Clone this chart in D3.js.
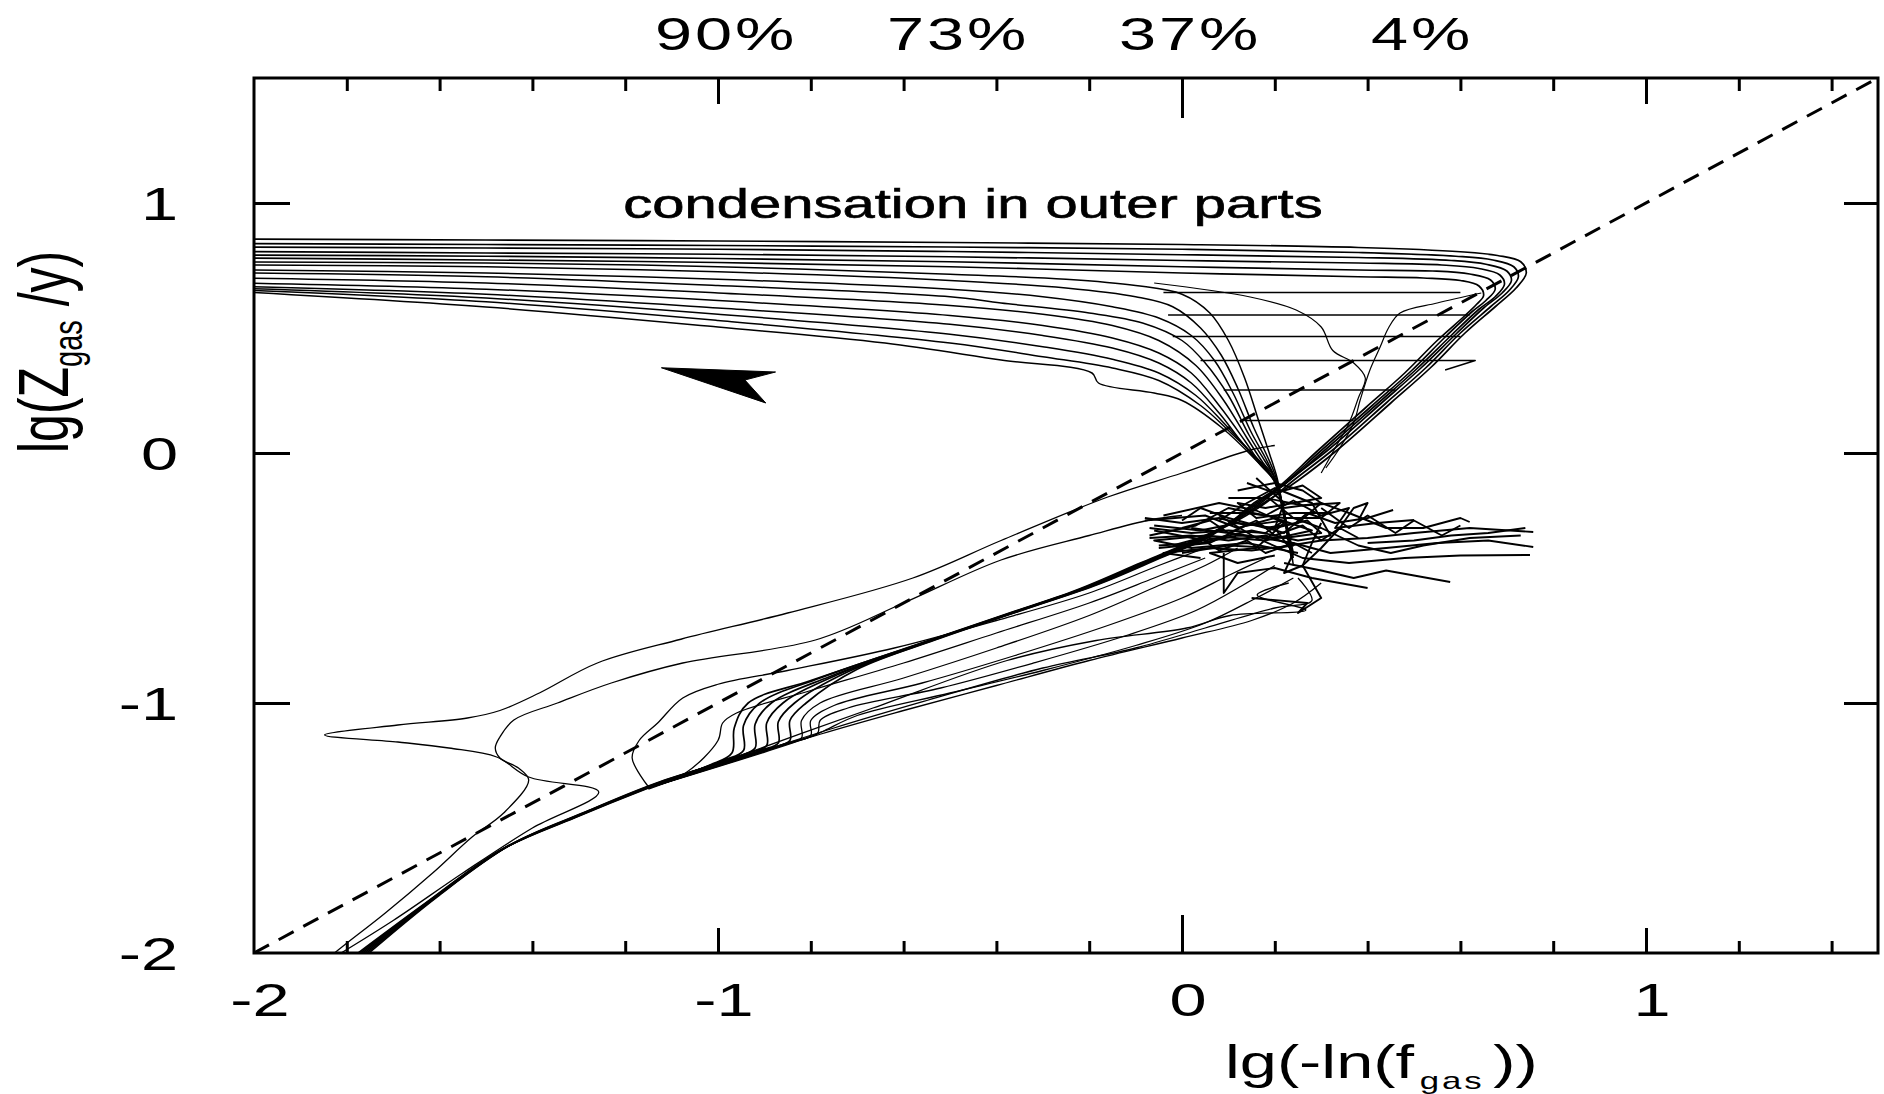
<!DOCTYPE html>
<html><head><meta charset="utf-8">
<script src="https://cdnjs.cloudflare.com/ajax/libs/d3/7.8.5/d3.min.js"></script>
<style>html,body{margin:0;padding:0;background:#fff;} svg{display:block;}</style>
</head><body>
<svg id="chart" width="1884" height="1094"></svg>
<script>
// ---------------- data ----------------
const xTickValues = [-2, -1, 0, 1];
const xTickLabels = ["-2", "-1", "0", "1"];
const yTickValues = [1, 0, -1, -2];
const yTickLabels = ["1", "0", "-1", "-2"];
const xMinorTicks = [-1.8,-1.6,-1.4,-1.2,-0.8,-0.6,-0.4,-0.2,0.2,0.4,0.6,0.8,1.2,1.4];
const xMidTicks = [-1, 1];
const xMajorTicks = [0];
const yMarkTicks = [-1, 0, 1];
const topTickValues = [-1, -0.5, 0, 0.5];
const topTickLabels = ["90%", "73%", "37%", "4%"];

const diagonal = [[-2, -2], [1.5, 1.5]];
const arrowHead = [[-1.122,0.341],[-0.876,0.324],[-0.942,0.292],[-0.897,0.2]];

const noseCurves = [
 [[-1.79,-2.02],[-1.63,-1.8],[-1.47,-1.59],[-1.31,-1.46],[-1.15,-1.34],[-1.02,-1.25],[-0.97,-1.2],[-0.965,-1.1],[-0.935,-1.0],[-0.8,-0.91],[-0.57,-0.765],[-0.38,-0.645],[-0.23,-0.55],[-0.09,-0.44],[0.0,-0.37],[0.1,-0.285],[0.18,-0.195],[0.25,-0.11],[0.34,0.02],[0.45,0.2],[0.535,0.34],[0.61,0.48],[0.675,0.585],[0.72,0.66],[0.742,0.72],[0.73,0.765],[0.68,0.79],[0.6,0.805],[0.38,0.822],[0.0,0.834],[-0.5,0.842],[-1.0,0.848],[-1.5,0.852],[-2.02,0.856]],
 [[-1.785,-2.02],[-1.625,-1.795],[-1.465,-1.585],[-1.305,-1.455],[-1.145,-1.335],[-0.99,-1.23],[-0.945,-1.19],[-0.945,-1.09],[-0.91,-1.0],[-0.78,-0.9],[-0.56,-0.76],[-0.37,-0.64],[-0.22,-0.545],[-0.08,-0.435],[0.01,-0.365],[0.11,-0.28],[0.18,-0.2],[0.24,-0.11],[0.33,0.02],[0.44,0.2],[0.525,0.34],[0.6,0.48],[0.665,0.585],[0.705,0.65],[0.725,0.705],[0.715,0.745],[0.67,0.772],[0.59,0.787],[0.38,0.802],[0.0,0.815],[-0.5,0.824],[-1.0,0.83],[-1.5,0.834],[-2.02,0.838]],
 [[-1.78,-2.02],[-1.62,-1.79],[-1.46,-1.58],[-1.3,-1.45],[-1.14,-1.33],[-0.96,-1.215],[-0.92,-1.18],[-0.92,-1.085],[-0.885,-1.0],[-0.76,-0.895],[-0.55,-0.755],[-0.36,-0.635],[-0.21,-0.54],[-0.07,-0.43],[0.02,-0.36],[0.11,-0.275],[0.17,-0.2],[0.23,-0.11],[0.32,0.02],[0.43,0.2],[0.515,0.34],[0.59,0.475],[0.65,0.58],[0.69,0.64],[0.71,0.69],[0.7,0.728],[0.655,0.755],[0.58,0.77],[0.38,0.782],[0.0,0.793],[-0.5,0.806],[-1.0,0.815],[-1.5,0.82],[-2.02,0.824]],
 [[-1.775,-2.02],[-1.615,-1.785],[-1.455,-1.575],[-1.295,-1.445],[-1.135,-1.325],[-0.935,-1.2],[-0.895,-1.17],[-0.895,-1.08],[-0.86,-1.0],[-0.74,-0.885],[-0.54,-0.75],[-0.35,-0.63],[-0.2,-0.535],[-0.06,-0.425],[0.03,-0.355],[0.11,-0.27],[0.165,-0.2],[0.225,-0.12],[0.31,0.015],[0.42,0.195],[0.505,0.335],[0.58,0.47],[0.64,0.575],[0.675,0.625],[0.695,0.675],[0.685,0.712],[0.64,0.738],[0.56,0.752],[0.38,0.76],[0.0,0.77],[-0.5,0.785],[-1.0,0.795],[-1.5,0.8],[-2.02,0.806]],
 [[-1.77,-2.02],[-1.61,-1.78],[-1.45,-1.57],[-1.29,-1.44],[-1.13,-1.32],[-0.91,-1.19],[-0.87,-1.16],[-0.87,-1.075],[-0.835,-1.0],[-0.72,-0.875],[-0.53,-0.745],[-0.34,-0.625],[-0.19,-0.53],[-0.05,-0.42],[0.04,-0.35],[0.11,-0.27],[0.16,-0.2],[0.215,-0.13],[0.3,0.01],[0.41,0.19],[0.495,0.33],[0.565,0.46],[0.625,0.565],[0.655,0.61],[0.675,0.655],[0.665,0.692],[0.62,0.716],[0.54,0.728],[0.38,0.732],[0.0,0.745],[-0.5,0.765],[-1.0,0.778],[-1.5,0.787],[-2.02,0.792]],
 [[-1.765,-2.02],[-1.605,-1.775],[-1.445,-1.565],[-1.285,-1.435],[-1.125,-1.315],[-0.885,-1.18],[-0.845,-1.15],[-0.845,-1.07],[-0.81,-1.0],[-0.7,-0.865],[-0.52,-0.74],[-0.33,-0.62],[-0.18,-0.525],[-0.04,-0.415],[0.05,-0.345],[0.11,-0.27],[0.155,-0.2],[0.205,-0.14],[0.29,0.005],[0.395,0.18],[0.48,0.32],[0.55,0.45],[0.61,0.55],[0.635,0.595],[0.65,0.63],[0.64,0.668],[0.6,0.69],[0.52,0.7],[0.38,0.705],[0.0,0.72],[-0.5,0.745],[-1.0,0.762],[-1.5,0.772],[-2.02,0.78]]
];

const funnelCurves = [
 [[-2.02,0.764],[-1.5,0.76],[-1.0,0.745],[-0.5,0.715],[-0.25,0.695],[-0.1,0.67],[0.0,0.635],[0.06,0.56],[0.1,0.45],[0.135,0.3],[0.165,0.13],[0.188,0.0],[0.205,-0.1],[0.22,-0.25],[0.235,-0.4]],
 [[-2.02,0.752],[-1.5,0.745],[-1.0,0.725],[-0.5,0.69],[-0.25,0.66],[-0.1,0.625],[-0.02,0.585],[0.04,0.5],[0.085,0.39],[0.12,0.26],[0.155,0.1],[0.183,-0.01],[0.203,-0.1],[0.222,-0.26],[0.238,-0.43]],
 [[-2.02,0.732],[-1.5,0.72],[-1.0,0.695],[-0.5,0.655],[-0.3,0.625],[-0.15,0.585],[-0.05,0.54],[0.02,0.47],[0.07,0.37],[0.11,0.24],[0.15,0.08],[0.18,-0.02],[0.2,-0.1],[0.225,-0.28],[0.24,-0.45]],
 [[-2.02,0.72],[-1.5,0.705],[-1.0,0.67],[-0.5,0.625],[-0.39,0.6],[-0.2,0.56],[-0.085,0.52],[0.0,0.45],[0.05,0.36],[0.1,0.23],[0.145,0.07],[0.178,-0.03],[0.2,-0.1],[0.226,-0.3],[0.236,-0.4]],
 [[-2.02,0.70],[-1.5,0.68],[-1.0,0.64],[-0.5,0.59],[-0.3,0.555],[-0.15,0.51],[-0.05,0.45],[0.03,0.35],[0.09,0.21],[0.14,0.06],[0.175,-0.04],[0.2,-0.1],[0.228,-0.32],[0.24,-0.42]],
 [[-2.02,0.68],[-1.5,0.655],[-1.0,0.61],[-0.5,0.55],[-0.3,0.51],[-0.15,0.46],[-0.05,0.4],[0.02,0.32],[0.08,0.19],[0.135,0.05],[0.172,-0.05],[0.2,-0.11],[0.23,-0.33]],
 [[-2.02,0.666],[-1.5,0.635],[-1.0,0.58],[-0.5,0.515],[-0.3,0.47],[-0.15,0.42],[-0.05,0.36],[0.02,0.28],[0.08,0.16],[0.13,0.04],[0.17,-0.05],[0.198,-0.11],[0.225,-0.3],[0.235,-0.42]],
 [[-2.02,0.658],[-1.5,0.62],[-1.0,0.555],[-0.5,0.475],[-0.3,0.425],[-0.15,0.375],[-0.05,0.32],[0.03,0.23],[0.09,0.12],[0.14,0.02],[0.2,-0.11],[0.228,-0.35]],
 [[-2.02,0.652],[-1.5,0.605],[-1.0,0.53],[-0.5,0.44],[-0.3,0.385],[-0.15,0.34],[-0.05,0.29],[0.04,0.19],[0.1,0.09],[0.155,-0.01],[0.2,-0.115],[0.232,-0.38]],
 [[-2.02,0.644],[-1.5,0.584],[-1.0,0.504],[-0.64,0.44],[-0.39,0.372],[-0.194,0.32],[-0.18,0.28],[-0.06,0.24],[0.0,0.21],[0.084,0.104],[0.16,-0.03],[0.2,-0.115],[0.225,-0.28],[0.24,-0.4]]
];

const fanCurves = [
 [[-1.15,-1.34],[-1.07,-1.28],[-1.0,-1.15],[-0.99,-1.08],[-0.96,-1.04],[-0.8,-0.95],[-0.6,-0.84],[-0.4,-0.72],[-0.2,-0.6],[-0.06,-0.5],[0.05,-0.42]],
 [[-1.15,-1.34],[-0.86,-1.165],[-0.82,-1.14],[-0.82,-1.07],[-0.78,-1.0],[-0.6,-0.9],[-0.4,-0.78],[-0.2,-0.65],[-0.05,-0.53],[0.05,-0.45],[0.12,-0.38]],
 [[-1.15,-1.34],[-0.84,-1.155],[-0.8,-1.13],[-0.8,-1.07],[-0.75,-1.01],[-0.56,-0.92],[-0.36,-0.81],[-0.16,-0.69],[0.0,-0.58],[0.1,-0.49],[0.18,-0.42]],
 [[-1.15,-1.34],[-0.82,-1.145],[-0.785,-1.12],[-0.78,-1.07],[-0.72,-1.02],[-0.52,-0.94],[-0.32,-0.84],[-0.12,-0.73],[0.03,-0.63],[0.13,-0.53],[0.2,-0.45]],
 [[-1.15,-1.34],[-0.8,-1.135],[-0.77,-1.11],[-0.7,-1.05],[-0.5,-0.96],[-0.3,-0.87],[-0.1,-0.77],[0.05,-0.68],[0.16,-0.58],[0.24,-0.5]],
 [[-1.15,-1.34],[-0.78,-1.125],[-0.6,-1.03],[-0.4,-0.93],[-0.2,-0.83],[0.0,-0.74],[0.15,-0.67],[0.24,-0.6],[0.3,-0.52]],
 [[-1.15,-1.34],[-0.75,-1.1],[-0.55,-0.99],[-0.3,-0.86],[-0.1,-0.78],[0.05,-0.7],[0.2,-0.62],[0.28,-0.59],[0.25,-0.5]],
 [[-1.15,-1.345],[-0.907,-1.18],[-0.666,-1.02],[-0.377,-0.83],[-0.185,-0.75],[0.01,-0.7],[0.104,-0.65],[0.267,-0.628],[0.162,-0.568],[0.23,-0.52]]
];

const fishCurves = [
 [[-1.83,-2.02],[-1.7,-1.87],[-1.55,-1.68],[-1.4,-1.5],[-1.257,-1.356],[-1.408,-1.296],[-1.477,-1.216],[-1.58,-1.18],[-1.69,-1.156],[-1.848,-1.128],[-1.69,-1.088],[-1.54,-1.06],[-1.47,-1.03],[-1.385,-0.96],[-1.26,-0.84],[-1.08,-0.745],[-0.85,-0.64],[-0.58,-0.5],[-0.39,-0.35],[-0.16,-0.176],[0.0,-0.08],[0.147,0.012],[0.2,0.03]],
 [[-1.84,-2.02],[-1.805,-1.968],[-1.717,-1.84],[-1.615,-1.68],[-1.53,-1.536],[-1.462,-1.44],[-1.408,-1.308],[-1.43,-1.26],[-1.47,-1.22],[-1.48,-1.18],[-1.47,-1.136],[-1.44,-1.068],[-1.346,-1.0],[-1.23,-0.92],[-1.076,-0.84],[-0.79,-0.748],[-0.6,-0.6],[-0.39,-0.428],[-0.2,-0.33],[-0.07,-0.268],[0.0,-0.25]],
 [[-1.15,-1.335],[-1.185,-1.22],[-1.17,-1.15],[-1.13,-1.08],[-1.076,-0.98],[-1.0,-0.925],[-0.85,-0.87],[-0.62,-0.78],[-0.4,-0.67],[-0.2,-0.56],[-0.05,-0.45],[0.05,-0.38]]
];

const bridgeLines = [
 [[-0.04,0.642],[0.60,0.642]],
 [[-0.03,0.552],[0.62,0.552]],
 [[-0.02,0.466],[0.60,0.466]],
 [[0.04,0.37],[0.632,0.37],[0.567,0.332]],
 [[0.09,0.252],[0.46,0.252]],
 [[0.135,0.13],[0.37,0.13]]
];

const wanderCurves = [
 [[-0.06,0.68],[0.147,0.624],[0.246,0.572],[0.30,0.504],[0.325,0.41],[0.37,0.36],[0.395,0.30],[0.38,0.22],[0.36,0.12],[0.33,0.02],[0.3,-0.08]],
 [[0.645,0.64],[0.55,0.6],[0.47,0.56],[0.445,0.5],[0.427,0.424],[0.405,0.332],[0.384,0.212],[0.37,0.12],[0.34,0.02],[0.31,-0.06]]
];

const clusterScribbles = [
 [[-0.08,-0.27],[0.05,-0.25],[0.12,-0.3],[0.2,-0.26],[0.28,-0.31],[0.18,-0.35],[0.05,-0.33],[-0.06,-0.35],[0.02,-0.38],[0.14,-0.36],[0.25,-0.4]],
 [[-0.07,-0.33],[0.03,-0.29],[0.1,-0.22],[0.18,-0.25],[0.24,-0.19],[0.3,-0.25],[0.36,-0.22],[0.33,-0.3],[0.42,-0.28],[0.5,-0.268]],
 [[-0.05,-0.38],[0.06,-0.36],[0.15,-0.28],[0.22,-0.32],[0.27,-0.24],[0.33,-0.28],[0.4,-0.26],[0.455,-0.228]],
 [[0.0,-0.4],[0.1,-0.37],[0.2,-0.38],[0.3,-0.35],[0.4,-0.34],[0.5,-0.32],[0.62,-0.3],[0.757,-0.316]],
 [[0.02,-0.3],[0.14,-0.33],[0.24,-0.36],[0.32,-0.4],[0.44,-0.38],[0.55,-0.36],[0.66,-0.35],[0.757,-0.376]],
 [[0.08,-0.25],[0.16,-0.34],[0.26,-0.42],[0.36,-0.44],[0.48,-0.42],[0.6,-0.41],[0.75,-0.408]],
 [[0.18,-0.17],[0.24,-0.26],[0.3,-0.3],[0.38,-0.37],[0.45,-0.4],[0.52,-0.37],[0.62,-0.34],[0.73,-0.33]],
 [[0.22,-0.44],[0.3,-0.47],[0.37,-0.5],[0.44,-0.47],[0.5,-0.49],[0.578,-0.516]],
 [[0.09,-0.4],[0.09,-0.56],[0.12,-0.48],[0.2,-0.46],[0.28,-0.5],[0.4,-0.54]],
 [[0.15,-0.58],[0.27,-0.6],[0.25,-0.64],[0.3,-0.58],[0.26,-0.45],[0.3,-0.38],[0.34,-0.3],[0.37,-0.22],[0.4,-0.2],[0.38,-0.27]],
 [[0.22,-0.22],[0.3,-0.2],[0.36,-0.24],[0.44,-0.3],[0.52,-0.3],[0.6,-0.26],[0.62,-0.276]],
 [[-0.06,-0.31],[0.05,-0.35],[0.15,-0.31],[0.25,-0.35],[0.32,-0.33],[0.28,-0.2],[0.2,-0.14],[0.14,-0.2],[0.08,-0.27]],
 [[0.12,-0.15],[0.2,-0.12],[0.26,-0.15],[0.3,-0.2],[0.25,-0.28],[0.18,-0.3],[0.1,-0.26],[0.04,-0.22],[0.0,-0.27]],
 [[-0.04,-0.25],[0.08,-0.2],[0.16,-0.23],[0.22,-0.28],[0.16,-0.38],[0.06,-0.4],[0.12,-0.44],[0.2,-0.41]],
 [[-0.08,-0.26],[0.0,-0.28],[0.08,-0.26],[0.14,-0.29],[0.22,-0.27],[0.18,-0.32],[0.1,-0.31],[0.02,-0.32],[-0.07,-0.3]],
 [[-0.07,-0.34],[0.02,-0.33],[0.1,-0.35],[0.18,-0.33],[0.24,-0.37],[0.15,-0.39],[0.06,-0.38],[-0.04,-0.4],[0.04,-0.42]],
 [[-0.06,-0.29],[0.04,-0.31],[0.12,-0.28],[0.2,-0.3],[0.27,-0.27],[0.3,-0.32],[0.22,-0.34],[0.12,-0.33],[0.04,-0.36],[-0.05,-0.37]],
 [[0.14,-0.12],[0.2,-0.16],[0.26,-0.13],[0.3,-0.18],[0.24,-0.2],[0.18,-0.22],[0.12,-0.2],[0.16,-0.26],[0.24,-0.24],[0.32,-0.24]],
 [[0.1,-0.18],[0.18,-0.18],[0.26,-0.21],[0.34,-0.2],[0.3,-0.26],[0.22,-0.26],[0.14,-0.24],[0.06,-0.24]],
 [[0.0,-0.3],[0.06,-0.27],[0.1,-0.32],[0.16,-0.27],[0.2,-0.33],[0.26,-0.29],[0.3,-0.35],[0.34,-0.3],[0.38,-0.34]],
 [[-0.02,-0.37],[0.04,-0.34],[0.08,-0.39],[0.14,-0.35],[0.18,-0.4],[0.24,-0.36],[0.28,-0.4]],
 [[0.16,-0.1],[0.22,-0.2],[0.2,-0.3],[0.24,-0.4],[0.22,-0.48],[0.26,-0.45],[0.28,-0.36],[0.3,-0.28]],
 [[0.3,-0.22],[0.36,-0.3],[0.4,-0.25],[0.46,-0.32],[0.5,-0.27],[0.56,-0.33],[0.6,-0.29]],
 [[0.4,-0.36],[0.5,-0.35],[0.58,-0.33],[0.66,-0.32],[0.74,-0.3]]
];

// ---------------- drawing ----------------
const FONT = "'Liberation Sans', Arial, Helvetica, sans-serif";
const SX = 1.45; // horizontal stretch of the lettering in the original
const svg = d3.select("#chart");
svg.append("rect").attr("width",1884).attr("height",1094).attr("fill","#fff");

const L = 254, R = 1878, T = 78, B = 953;
const x = d3.scaleLinear().domain([-2, 1.5]).range([L, R]);
const y = d3.scaleLinear().domain([-2, 1.5]).range([B, T]);

svg.append("defs").append("clipPath").attr("id","clip")
  .append("rect").attr("x",L).attr("y",T).attr("width",R-L).attr("height",B-T);

const plot = svg.append("g").attr("clip-path","url(#clip)");
const smooth = d3.line().x(d=>x(d[0])).y(d=>y(d[1])).curve(d3.curveCatmullRom.alpha(0.5));
const straight = d3.line().x(d=>x(d[0])).y(d=>y(d[1]));

function drawSet(data, gen, w){
  plot.append("g").selectAll("path").data(data).join("path")
    .attr("d", gen).attr("fill","none").attr("stroke","#000")
    .attr("stroke-width", w).attr("stroke-linejoin","round");
}
drawSet(funnelCurves, smooth, 1.5);
drawSet(noseCurves, smooth, 1.7);
drawSet(fanCurves, smooth, 1.3);
drawSet(fishCurves, smooth, 1.3);
drawSet(bridgeLines, straight, 1.4);
drawSet(wanderCurves, smooth, 1.2);
drawSet(clusterScribbles, straight, 1.9);

plot.append("path").attr("d", straight(diagonal)).attr("fill","none")
  .attr("stroke","#000").attr("stroke-width",3).attr("stroke-dasharray","17,11");

plot.append("path").attr("d", straight(arrowHead) + "Z").attr("fill","#000").attr("stroke","#000").attr("stroke-width",1);

// axes / ticks
function tickAxis(axis, tr, vals, size){
  const g = svg.append("g").attr("transform", tr)
    .call(axis.tickValues(vals).tickSize(size).tickFormat(""));
  g.select(".domain").remove();
  g.selectAll("line").attr("stroke","#000").attr("stroke-width",3);
}
tickAxis(d3.axisBottom(x), `translate(0,${B})`, xMinorTicks, -12);
tickAxis(d3.axisBottom(x), `translate(0,${B})`, xMidTicks, -25);
tickAxis(d3.axisBottom(x), `translate(0,${B})`, xMajorTicks, -38);
tickAxis(d3.axisTop(x), `translate(0,${T})`, xMinorTicks, -13);
tickAxis(d3.axisTop(x), `translate(0,${T})`, xMidTicks, -26);
tickAxis(d3.axisTop(x), `translate(0,${T})`, xMajorTicks, -40);
tickAxis(d3.axisLeft(y), `translate(${L},0)`, yMarkTicks, -36);
tickAxis(d3.axisRight(y), `translate(${R},0)`, yMarkTicks, -34);

svg.append("rect").attr("x",L).attr("y",T).attr("width",R-L).attr("height",B-T)
  .attr("fill","none").attr("stroke","#000").attr("stroke-width",3);

// tick labels
svg.append("g").selectAll("text").data(xTickValues).join("text")
  .attr("transform", d => `translate(${x(d)+6},1016) scale(${SX},1)`)
  .attr("text-anchor","middle").attr("font-family",FONT).attr("font-size",46)
  .text((d,i) => xTickLabels[i]);
svg.append("g").selectAll("text").data(yTickValues).join("text")
  .attr("transform", d => `translate(178,${y(d)+17}) scale(${SX},1)`)
  .attr("text-anchor","end").attr("font-family",FONT).attr("font-size",46)
  .text((d,i) => yTickLabels[i]);
svg.append("g").selectAll("text").data(topTickValues).join("text")
  .attr("transform", d => `translate(${x(d)+8},50) scale(${SX},1)`)
  .attr("text-anchor","middle").attr("font-family",FONT).attr("font-size",46)
  .attr("letter-spacing",2)
  .text((d,i) => topTickLabels[i]);

// annotation
svg.append("text").attr("transform",`translate(973,218) scale(${SX},1)`)
  .attr("text-anchor","middle").attr("font-family",FONT).attr("font-size",40)
  .attr("stroke","#000").attr("stroke-width",0.6)
  .text("condensation in outer parts");

// axis titles
const xt = svg.append("text").attr("transform",`translate(1225,1078) scale(${SX},1)`)
  .attr("font-family",FONT).attr("font-size",46);
xt.append("tspan").text("lg(-ln(f");
xt.append("tspan").attr("font-size",24).attr("dx",4).attr("dy",11).attr("letter-spacing",2).text("gas");
xt.append("tspan").attr("dy",-11).attr("dx",6).text("))");

const yt = svg.append("text").attr("transform",`translate(68,453) scale(1.4,1) rotate(-90)`)
  .attr("font-family",FONT).attr("font-size",50);
yt.append("tspan").text("lg(Z");
yt.append("tspan").attr("font-size",29).attr("dy",10).text("gas");
yt.append("tspan").attr("dy",-10).text(" /y)");
</script>
</body></html>
